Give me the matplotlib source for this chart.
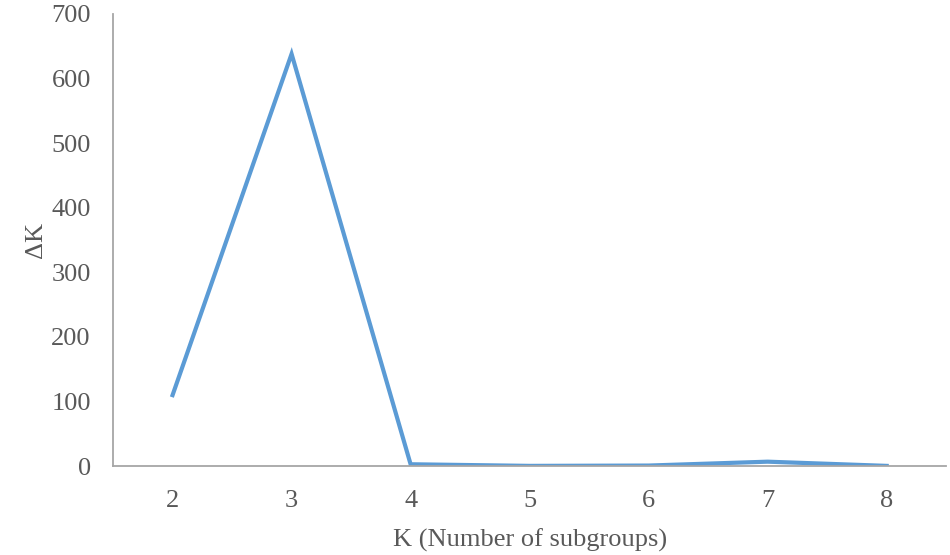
import matplotlib.pyplot as plt

# dane: K (liczba podgrup) i delta K
k_labels = ['2', '3', '4', '5', '6', '7', '8']
delta_k = [110, 638, 3, 0.5, 1, 7, 0.5]

plt.rcParams['font.family'] = ['Liberation Serif', 'DejaVu Serif']

fig = plt.figure(figsize=(9.5, 5.55), dpi=100)
ax = fig.add_axes([0.119, 0.160, 0.877, 0.815])

x = list(range(len(k_labels)))
ax.plot(x, delta_k, color='#5b9bd5', linewidth=3.0, solid_joinstyle='miter')

ax.set_xlim(-0.5, len(k_labels) - 0.5)
ax.set_ylim(0, 700)
ax.set_xticks(x)
ax.set_xticklabels(k_labels)
ax.set_yticks(range(0, 701, 100))

for side in ['top', 'right']:
    ax.spines[side].set_visible(False)
for side in ['left', 'bottom']:
    ax.spines[side].set_color('#a6a6a6')
    ax.spines[side].set_linewidth(1.3)

ax.tick_params(length=0, labelsize=19, labelcolor='#595959')
ax.tick_params(axis='y', pad=16)
ax.tick_params(axis='x', pad=17)
ax.set_xlabel('K (Number of subgroups)', fontsize=19, color='#595959', labelpad=12)
ax.set_ylabel('ΔK', fontsize=19, color='#595959', labelpad=3)

fig.savefig('out.png', dpi=100)
